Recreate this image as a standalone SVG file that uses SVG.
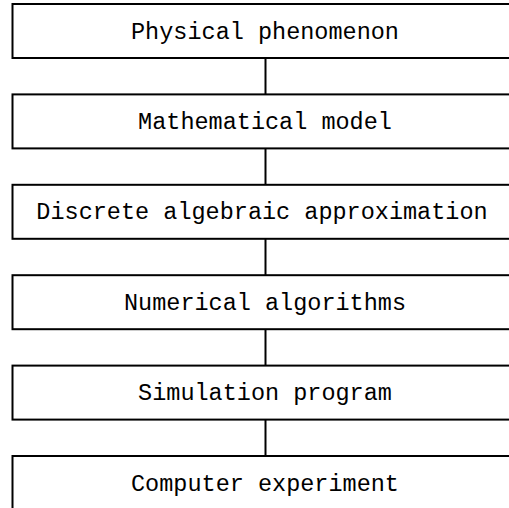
<svg xmlns="http://www.w3.org/2000/svg" width="509" height="508" viewBox="0 0 509 508">
  <style>
    .box { fill: #ffffff; stroke: #000000; stroke-width: 2; }
    .lbl { font-family: "Liberation Mono", "Courier New", monospace; font-size: 23.5px; fill: #000000; text-anchor: middle; }
    .link { stroke: #000000; stroke-width: 2; fill: none; }
  </style>
  <rect width="509" height="508" fill="#ffffff"/>
  <g id="connectors">
    <line class="link" x1="265.5" y1="58" x2="265.5" y2="94.4"/>
    <line class="link" x1="265.5" y1="148.4" x2="265.5" y2="184.8"/>
    <line class="link" x1="265.5" y1="238.8" x2="265.5" y2="275.2"/>
    <line class="link" x1="265.5" y1="329.2" x2="265.5" y2="365.6"/>
    <line class="link" x1="265.5" y1="419.6" x2="265.5" y2="456"/>
  </g>
  <g id="physical-phenomenon">
    <rect class="box" x="12.5" y="4" width="530" height="54"/>
    <text class="lbl" x="265" y="38.5">Physical phenomenon</text>
  </g>
  <g id="mathematical-model">
    <rect class="box" x="12.5" y="94.4" width="530" height="54"/>
    <text class="lbl" x="265" y="128.9">Mathematical model</text>
  </g>
  <g id="discrete-approximation">
    <rect class="box" x="12.5" y="184.8" width="530" height="54"/>
    <text class="lbl" x="262" y="219.3">Discrete algebraic approximation</text>
  </g>
  <g id="numerical-algorithms">
    <rect class="box" x="12.5" y="275.2" width="530" height="54"/>
    <text class="lbl" x="265" y="309.7">Numerical algorithms</text>
  </g>
  <g id="simulation-program">
    <rect class="box" x="12.5" y="365.6" width="530" height="54"/>
    <text class="lbl" x="265" y="400.1">Simulation program</text>
  </g>
  <g id="computer-experiment">
    <rect class="box" x="12.5" y="456" width="530" height="80"/>
    <text class="lbl" x="265" y="490.5">Computer experiment</text>
  </g>
</svg>
